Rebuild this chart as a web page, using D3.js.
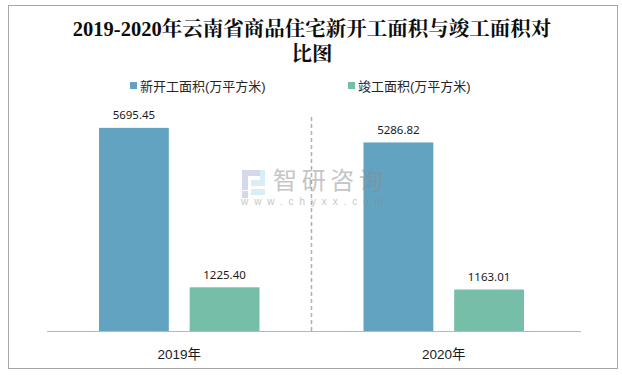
<!DOCTYPE html>
<html><head><meta charset="utf-8">
<script src="https://cdn.jsdelivr.net/npm/d3@7"></script>
<style>html,body{margin:0;padding:0;background:#fff}svg{display:block}text{font-family:"Liberation Sans","Noto Sans CJK SC",sans-serif}</style>
</head><body><svg id="c" width="622" height="375"></svg>
<script>
const categories = ["2019年","2020年"];
const seriesNames = ["新开工面积(万平方米)","竣工面积(万平方米)"];
const newStart = [5695.45,5286.82];
const completed = [1225.40,1163.01];
const valueLabels = [["5695.45","5286.82"],["1225.40","1163.01"]];
const colors = ["#62a3c2","#76bea7"];
const titleLines = ["2019-2020年云南省商品住宅新开工面积与竣工面积对","比图"];
const series = [newStart,completed];

const svg = d3.select("#c");
svg.append("rect").attr("x",8.5).attr("y",5.5).attr("width",609).attr("height",363)
  .attr("fill","#fff").attr("stroke","#a6a6a6").attr("stroke-width",1);

const x0 = d3.scaleBand().domain(categories).range([47,576]);
const x1 = d3.scaleBand().domain([0,1]).range([52,212.5]).paddingInner(0.23);
const y = d3.scaleLinear().domain([0,6000]).range([331,117]);

titleLines.forEach((t,i)=>svg.append("text").attr("x",312).attr("y",36+i*25).attr("text-anchor","middle")
  .attr("font-size",20.5).attr("font-weight","700").attr("fill","#0d0d0d")
  .style("font-family",'"Liberation Serif","Noto Serif CJK SC","Noto Sans CJK SC",serif').text(t));

const legendX=[130,348];
seriesNames.forEach((n,i)=>{
  svg.append("rect").attr("x",legendX[i]).attr("y",82).attr("width",7).attr("height",7).attr("fill",colors[i]);
  svg.append("text").attr("x",legendX[i]+10).attr("y",90.5).attr("font-size",13).attr("fill","#262626").text(n);
});

series.forEach((vals,s)=>{
  svg.append("g").selectAll("rect").data(vals).join("rect")
    .attr("x",(d,i)=>x0(categories[i])+x1(s)).attr("y",d=>y(d))
    .attr("width",x1.bandwidth()).attr("height",d=>y(0)-y(d)).attr("fill",colors[s]);
  svg.append("g").selectAll("text").data(vals).join("text")
    .attr("x",(d,i)=>x0(categories[i])+x1(s)+x1.bandwidth()/2).attr("y",d=>y(d)-8.5)
    .attr("text-anchor","middle").attr("font-size",11.5).attr("fill","#1a1a1a")
    .style("font-family",'"Noto Sans",sans-serif')
    .text((d,i)=>valueLabels[s][i]);
});

svg.append("line").attr("x1",x0.range()[0]).attr("x2",581).attr("y1",y(0)+.5).attr("y2",y(0)+.5)
  .attr("stroke","#b8b8b8").attr("stroke-width",1);
svg.append("line").attr("x1",x0(categories[1])).attr("x2",x0(categories[1])).attr("y1",y.range()[1]).attr("y2",y(0))
  .attr("stroke","#b0b0b0").attr("stroke-width",1.5).attr("stroke-dasharray","4 3");
svg.append("g").selectAll("text").data(categories).join("text")
  .attr("x",d=>x0(d)+x0.bandwidth()/2).attr("y",359).attr("text-anchor","middle")
  .attr("font-size",13.5).attr("fill","#1a1a1a").text(d=>d);

// watermark
const wm = svg.append("g").attr("opacity",.5);
[[242,170,20,6,"#a9b4d4"],[242,176,6,14,"#a9b4d4"],[242,191,6,7,"#a9b4d4"],[251,180,14,6,"#b5dcf0"],[260,170,5,10,"#b5dcf0"],[251,189,14,6,"#b5dcf0"]]
  .forEach(r=>wm.append("rect").attr("x",r[0]).attr("y",r[1]).attr("width",r[2]).attr("height",r[3]).attr("fill",r[4]));
wm.append("text").attr("x",273).attr("y",189).attr("font-size",24).attr("fill","#8c8c8c").attr("textLength",110).text("智研咨询");
wm.append("text").attr("x",241).attr("y",204.5).attr("font-size",10).attr("fill","#8c8c8c").attr("textLength",142).text("www.chyxx.com");
</script></body></html>
